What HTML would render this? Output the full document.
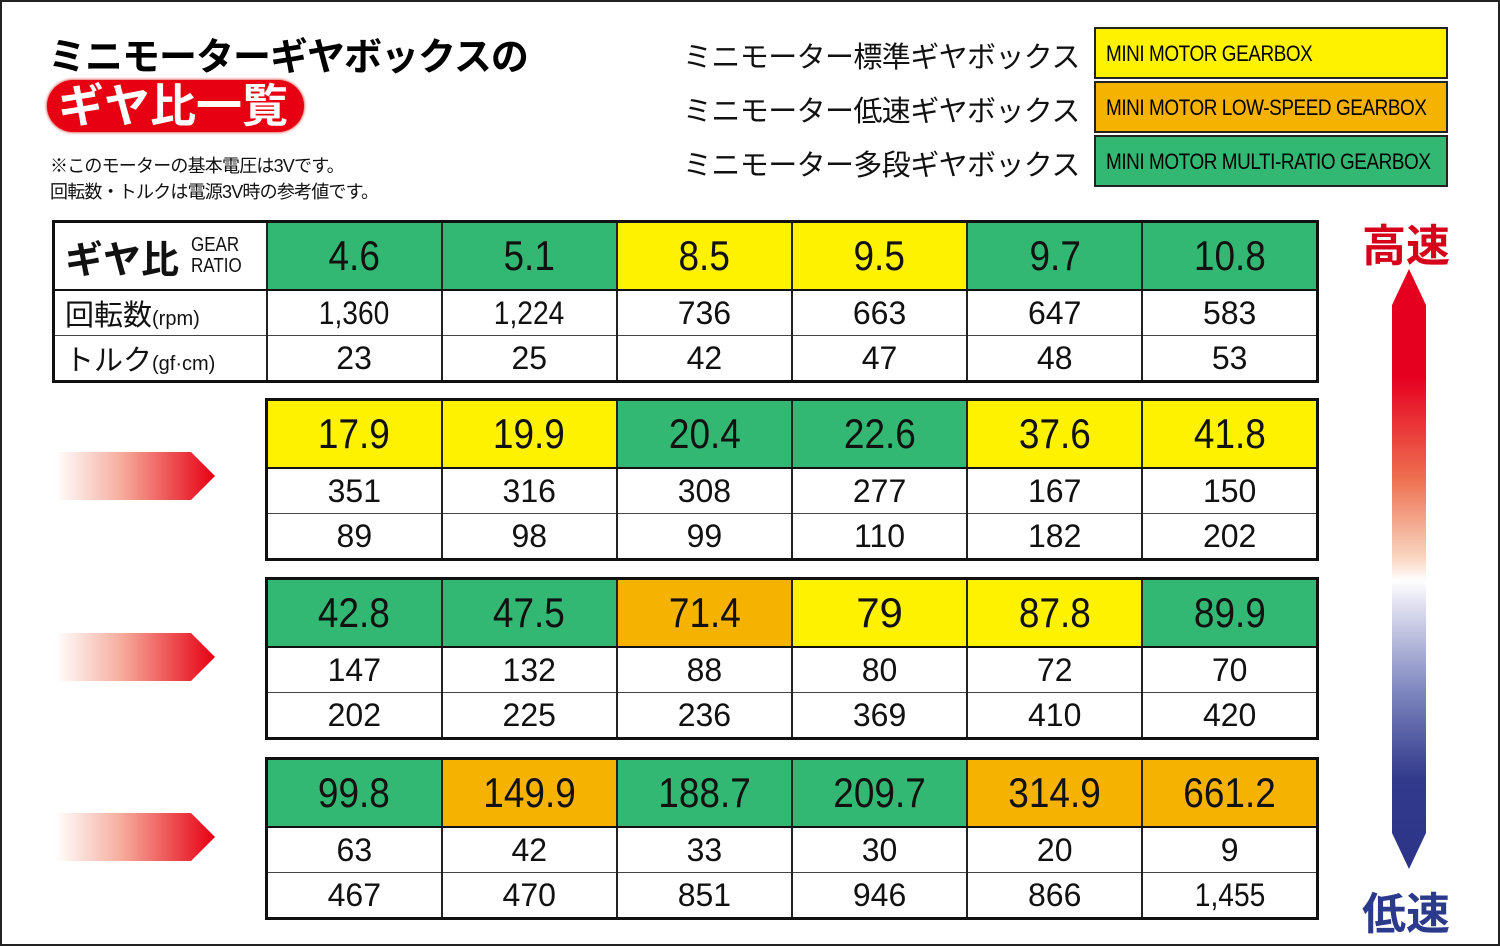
<!DOCTYPE html>
<html><head><meta charset="utf-8"><style>
body{margin:0;width:1500px;height:946px;background:#fff;position:relative;overflow:hidden;font-family:"Liberation Sans","Noto Sans CJK JP",sans-serif}
.frame{position:absolute;left:0;top:0;width:1496px;height:942px;border:2px solid #222}
.a{position:absolute;white-space:nowrap}
table{position:absolute;border-collapse:collapse;table-layout:fixed;border:3px solid #111}
td{border-left:2px solid #222;border-top:1px solid #444;text-align:center;padding:0;color:#111;overflow:hidden;white-space:nowrap}
td span.n{display:inline-block;transform:scaleX(.88)}
tr.h td{height:66px;font-size:42px;border-bottom:2px solid #111}
tr.r td{height:44px;font-size:32px}
.g{background:#33b873}.y{background:#fff200}.o{background:#f5b300}
.lab{text-align:left;padding-left:10px}
.arr{position:absolute;left:55px;width:160px;height:48px;background:linear-gradient(90deg,#fff 0%,#f6b0a0 40%,#e60012 100%);clip-path:polygon(0 0,85% 0,100% 50%,85% 100%,0 100%)}
.leg{position:absolute;left:1094px;width:354px;height:52px;border:2px solid #222;font-size:22px;line-height:50px;padding-left:10px;box-sizing:border-box;white-space:nowrap;overflow:hidden}
.leg span{display:inline-block;transform:scaleX(.86);transform-origin:left center;letter-spacing:-0.5px}
.lt{position:absolute;left:683px;font-size:29px;letter-spacing:-0.6px;color:#111;white-space:nowrap}
</style></head><body>
<div class="frame"></div>
<div class="a" style="left:48px;top:26px;font-size:38px;font-weight:bold;letter-spacing:-1px">ミニモーターギヤボックスの</div>
<div class="a" style="left:47px;top:80px;width:257px;height:52px;border-radius:26px;background:#e60012;box-shadow:0 0 3px #c00"></div>
<div class="a" style="left:58px;top:82px;font-size:46px;line-height:48px;font-weight:bold;color:#fff;letter-spacing:0px">ギヤ比一覧</div>
<div class="a" style="left:50px;top:153px;font-size:18px;line-height:26px;color:#111;letter-spacing:-0.8px">※このモーターの基本電圧は3Vです。<br>回転数・トルクは電源3V時の参考値です。</div>

<div class="lt" style="top:34px">ミニモーター標準ギヤボックス</div>
<div class="lt" style="top:88px">ミニモーター低速ギヤボックス</div>
<div class="lt" style="top:142px">ミニモーター多段ギヤボックス</div>
<div class="leg y" style="top:27px"><span>MINI MOTOR GEARBOX</span></div>
<div class="leg o" style="top:81px"><span>MINI MOTOR LOW-SPEED GEARBOX</span></div>
<div class="leg g" style="top:135px"><span>MINI MOTOR MULTI-RATIO GEARBOX</span></div>

<table style="left:52px;top:220px;width:1267px">
<colgroup><col style="width:213px"><col><col><col><col><col><col></colgroup>
<tr class="h"><td class="lab" style="background:#fff"><span style="font-size:38px;font-weight:bold;vertical-align:middle">ギヤ比</span><span style="display:inline-block;font-size:20px;line-height:21px;vertical-align:middle;margin-left:12px;transform:scaleX(.85);transform-origin:left">GEAR<br>RATIO</span></td><td class="g"><span class="n">4.6</span></td><td class="g"><span class="n">5.1</span></td><td class="y"><span class="n">8.5</span></td><td class="y"><span class="n">9.5</span></td><td class="g"><span class="n">9.7</span></td><td class="g"><span class="n">10.8</span></td></tr>
<tr class="r"><td class="lab" style="font-size:29px">回転数<span style="font-size:20px">(rpm)</span></td><td><span class="n">1,360</span></td><td><span class="n">1,224</span></td><td>736</td><td>663</td><td>647</td><td>583</td></tr>
<tr class="r"><td class="lab" style="font-size:29px">トルク<span style="font-size:20px">(gf·cm)</span></td><td>23</td><td>25</td><td>42</td><td>47</td><td>48</td><td>53</td></tr>
</table>

<table style="left:265px;top:398px;width:1054px">
<tr class="h"><td class="y"><span class="n">17.9</span></td><td class="y"><span class="n">19.9</span></td><td class="g"><span class="n">20.4</span></td><td class="g"><span class="n">22.6</span></td><td class="y"><span class="n">37.6</span></td><td class="y"><span class="n">41.8</span></td></tr>
<tr class="r"><td>351</td><td>316</td><td>308</td><td>277</td><td>167</td><td>150</td></tr>
<tr class="r"><td>89</td><td>98</td><td>99</td><td>110</td><td>182</td><td>202</td></tr>
</table>
<table style="left:265px;top:577px;width:1054px">
<tr class="h"><td class="g"><span class="n">42.8</span></td><td class="g"><span class="n">47.5</span></td><td class="o"><span class="n">71.4</span></td><td class="y">79</td><td class="y"><span class="n">87.8</span></td><td class="g"><span class="n">89.9</span></td></tr>
<tr class="r"><td>147</td><td>132</td><td>88</td><td>80</td><td>72</td><td>70</td></tr>
<tr class="r"><td>202</td><td>225</td><td>236</td><td>369</td><td>410</td><td>420</td></tr>
</table>
<table style="left:265px;top:757px;width:1054px">
<tr class="h"><td class="g"><span class="n">99.8</span></td><td class="o"><span class="n">149.9</span></td><td class="g"><span class="n">188.7</span></td><td class="g"><span class="n">209.7</span></td><td class="o"><span class="n">314.9</span></td><td class="o"><span class="n">661.2</span></td></tr>
<tr class="r"><td>63</td><td>42</td><td>33</td><td>30</td><td>20</td><td>9</td></tr>
<tr class="r"><td>467</td><td>470</td><td>851</td><td>946</td><td>866</td><td><span class="n">1,455</span></td></tr>
</table>

<div class="arr" style="top:452px"></div>
<div class="arr" style="top:633px"></div>
<div class="arr" style="top:813px"></div>

<div class="a" style="left:1362px;top:210px;font-size:44px;font-weight:bold;color:#d7001a">高速</div>
<div class="a" style="left:1362px;top:878px;font-size:44px;font-weight:bold;color:#2b3a8a">低速</div>
<div class="a" style="left:1392px;top:269px;width:34px;height:600px;background:linear-gradient(180deg,#e60020 0%,#e60020 18%,#ee7050 35%,#f9d5c0 48%,#fff 52%,#e0e0f0 56%,#8088c0 70%,#323a8c 85%,#2b3488 100%);clip-path:polygon(50% 0,100% 6%,100% 94%,50% 100%,0 94%,0 6%)"></div>
</body></html>
